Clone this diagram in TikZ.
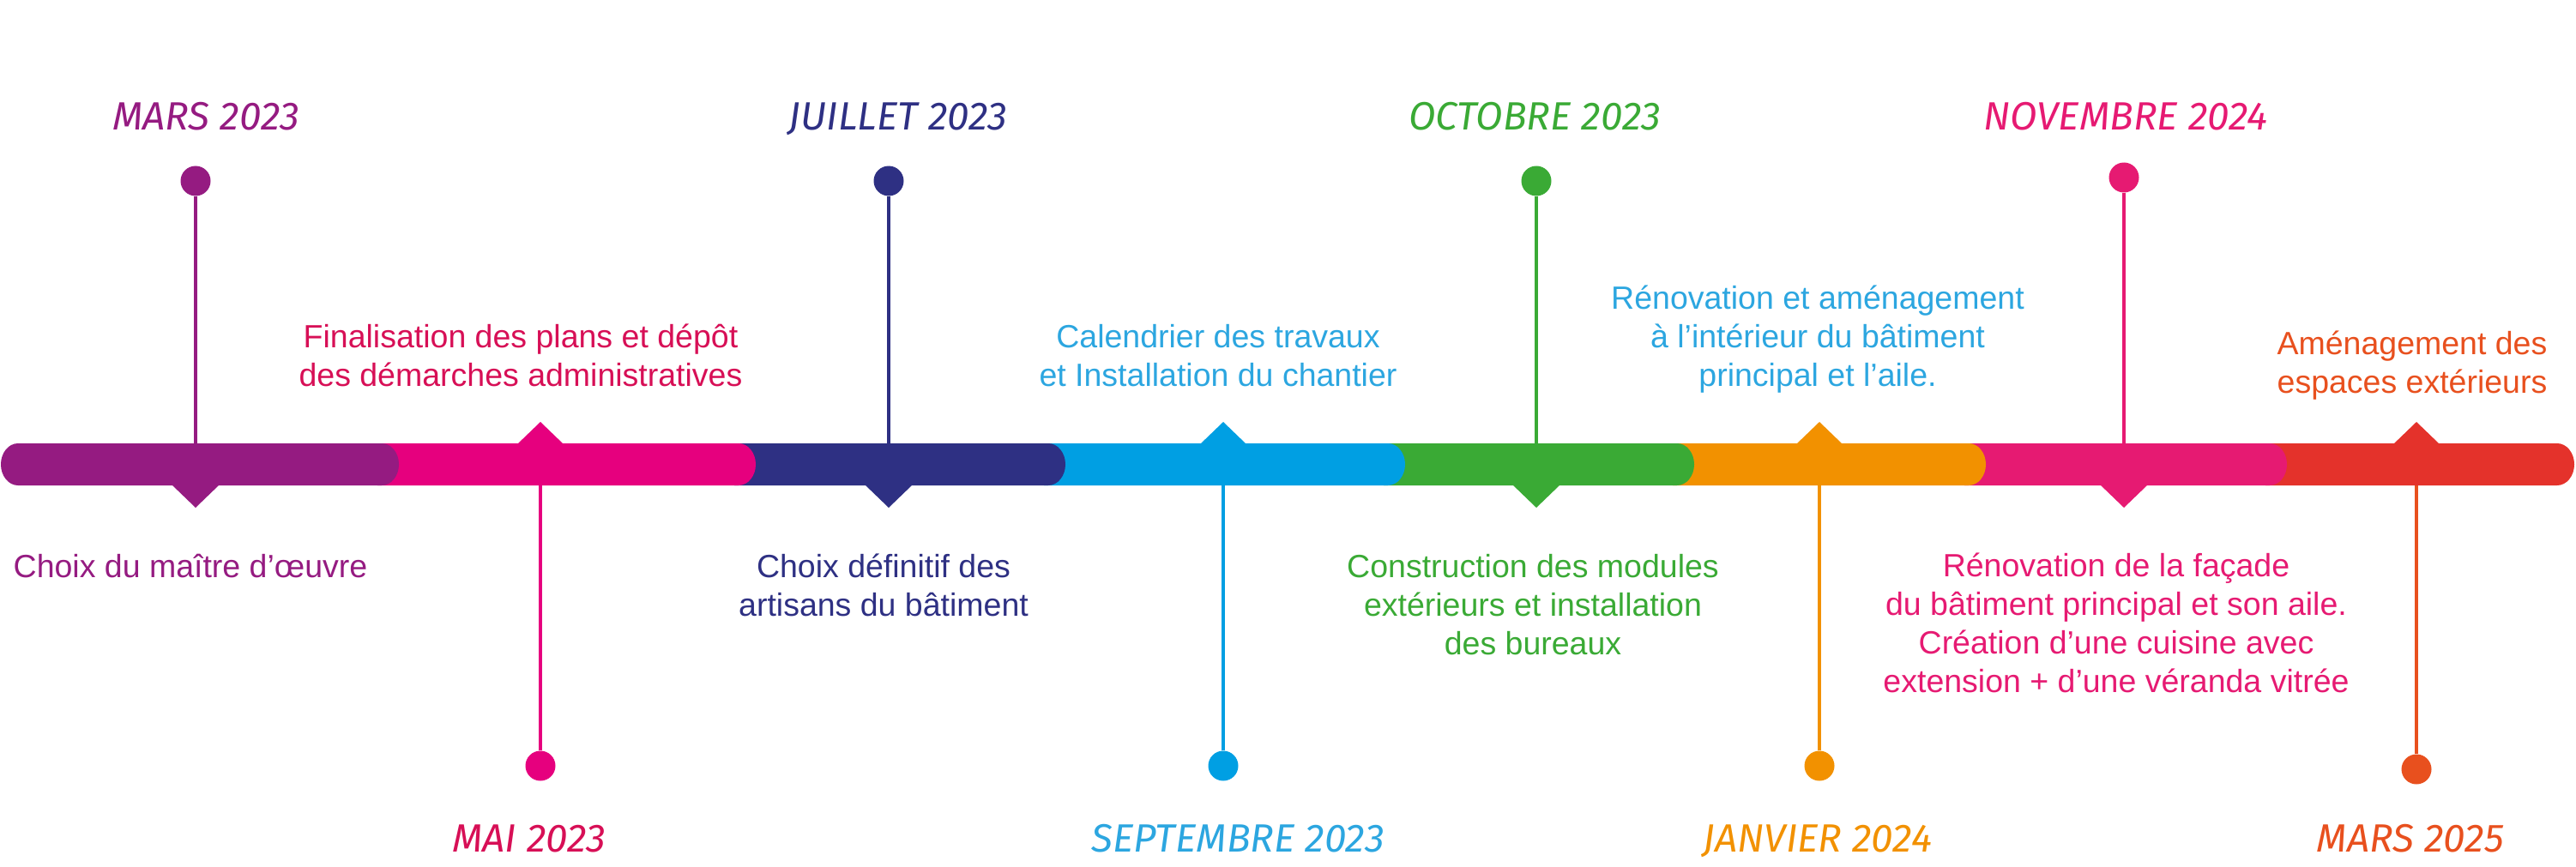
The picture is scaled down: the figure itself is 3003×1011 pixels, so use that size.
\documentclass[tikz,border=0pt]{standalone}
\usepackage{fontspec}
\setmainfont{Liberation Sans}
\newfontfamily\datefont{Fira Sans}

\begin{document}
\begin{tikzpicture}[x=1pt, y=-1pt,
    event/.style={font=\fontsize{37.5}{45}\selectfont, align=center, anchor=base, inner sep=0pt},
    datelabel/.style={font=\datefont\itshape\fontsize{46}{46}\selectfont, anchor=base, inner sep=0pt},
    dot/.style={circle, fill=#1, minimum size=35pt, inner sep=0pt},
    stem/.style={draw=#1, line width=4.3pt}]
    % Define colors
    \definecolor{violetcol}{HTML}{951B81} % Purple
    \definecolor{magentacol}{HTML}{E6007E} % Magenta
    \definecolor{crimsoncol}{HTML}{D70F56} % Crimson for text
    \definecolor{navycol}{HTML}{2E3083} % Navy
    \definecolor{skycol}{HTML}{009FE3} % Sky blue
    \definecolor{skytext}{HTML}{2CA6E0} % Sky blue for text
    \definecolor{greencol}{HTML}{3AAA35} % Green
    \definecolor{orangecol}{HTML}{F29100} % Orange
    \definecolor{pinkcol}{HTML}{E61A72} % Pink
    \definecolor{redcol}{HTML}{E4322B} % Red
    \definecolor{brickcol}{HTML}{E8501E} % Orange red

    % Canvas
    \useasboundingbox (0,0) rectangle (3003,1011);

    % Milestones (dots)
    \node[dot=violetcol] (d1) at (228,211) {};
    \node[dot=magentacol] (d2) at (630,893) {};
    \node[dot=navycol] (d3) at (1036,211) {};
    \node[dot=skycol] (d4) at (1426,893) {};
    \node[dot=greencol] (d5) at (1791,211) {};
    \node[dot=orangecol] (d6) at (2121,893) {};
    \node[dot=pinkcol] (d7) at (2476,207) {};
    \node[dot=brickcol] (d8) at (2817,897) {};

    % Points on the bar
    \coordinate (b1) at (228,541);
    \coordinate (b2) at (630,541);
    \coordinate (b3) at (1036,541);
    \coordinate (b4) at (1426,541);
    \coordinate (b5) at (1791,541);
    \coordinate (b6) at (2121,541);
    \coordinate (b7) at (2476,541);
    \coordinate (b8) at (2817,541);

    % Stems
    \draw[stem=violetcol] (d1) -- (b1);
    \draw[stem=magentacol] (d2) -- (b2);
    \draw[stem=navycol] (d3) -- (b3);
    \draw[stem=skycol] (d4) -- (b4);
    \draw[stem=greencol] (d5) -- (b5);
    \draw[stem=orangecol] (d6) -- (b6);
    \draw[stem=pinkcol] (d7) -- (b7);
    \draw[stem=brickcol] (d8) -- (b8);

    % Bar, right to left so each rounded end lies on the next one
    \fill[redcol] (2641,517) -- (2981,517) arc[start angle=-90, end angle=90, x radius=20, y radius=24.5] -- (2641,566) -- cycle;
    \fill[pinkcol] (2290,517) -- (2646,517) arc[start angle=-90, end angle=90, x radius=20, y radius=24.5] -- (2290,566) -- cycle;
    \fill[orangecol] (1950,517) -- (2295,517) arc[start angle=-90, end angle=90, x radius=20, y radius=24.5] -- (1950,566) -- cycle;
    \fill[greencol] (1613,517) -- (1955,517) arc[start angle=-90, end angle=90, x radius=20, y radius=24.5] -- (1613,566) -- cycle;
    \fill[skycol] (1217,517) -- (1618,517) arc[start angle=-90, end angle=90, x radius=20, y radius=24.5] -- (1217,566) -- cycle;
    \fill[navycol] (856,517) -- (1222,517) arc[start angle=-90, end angle=90, x radius=20, y radius=24.5] -- (856,566) -- cycle;
    \fill[magentacol] (440,517) -- (861,517) arc[start angle=-90, end angle=90, x radius=20, y radius=24.5] -- (440,566) -- cycle;
    \fill[violetcol] (21,517) -- (445,517) arc[start angle=-90, end angle=90, x radius=20, y radius=24.5] -- (21,566) arc[start angle=90, end angle=270, x radius=20, y radius=24.5] -- cycle;

    % Pointers
    \fill[violetcol] (200,565) -- (228,592) -- (256,565) -- cycle;
    \fill[magentacol] (603,518) -- (630,492) -- (657,518) -- cycle;
    \fill[navycol] (1008,565) -- (1036,592) -- (1064,565) -- cycle;
    \fill[skycol] (1399,518) -- (1426,492) -- (1453,518) -- cycle;
    \fill[greencol] (1763,565) -- (1791,592) -- (1819,565) -- cycle;
    \fill[orangecol] (2094,518) -- (2121,492) -- (2148,518) -- cycle;
    \fill[pinkcol] (2448,565) -- (2476,592) -- (2504,565) -- cycle;
    \fill[redcol] (2790,518) -- (2817,492) -- (2844,518) -- cycle;

    % Dates
    \node[datelabel, violetcol] (m1) at (240,152) {MARS 2023};
    \node[datelabel, crimsoncol] (m2) at (617,993) {MAI 2023};
    \node[datelabel, navycol] (m3) at (1047,152) {JUILLET 2023};
    \node[datelabel, skytext] (m4) at (1443,993) {SEPTEMBRE 2023};
    \node[datelabel, greencol] (m5) at (1789,152) {OCTOBRE 2023};
    \node[datelabel, orangecol] (m6) at (2119,993) {JANVIER 2024};
    \node[datelabel, pinkcol] (m7) at (2478,152) {NOVEMBRE 2024};
    \node[datelabel, brickcol] (m8) at (2810,993) {MARS 2025};

    % Steps (base = last line)
    \node[event, violetcol] (e1) at (222,673) {Choix du maître d’œuvre};
    \node[event, crimsoncol] (e2) at (607,450) {Finalisation des plans et dépôt\\des démarches administratives};
    \node[event, navycol] (e3) at (1030,718) {Choix définitif des\\artisans du bâtiment};
    \node[event, skytext] (e4) at (1420,450) {Calendrier des travaux\\et Installation du chantier};
    \node[event, greencol] (e5) at (1787,763) {Construction des modules\\extérieurs et installation\\des bureaux};
    \node[event, skytext] (e6) at (2119,450) {Rénovation et aménagement\\à l’intérieur du bâtiment\\principal et l’aile.};
    \node[event, pinkcol] (e7) at (2467,807) {Rénovation de la façade\\du bâtiment principal et son aile.\\Création d’une cuisine avec\\extension + d’une véranda vitrée};
    \node[event, brickcol] (e8) at (2812,458) {Aménagement des\\espaces extérieurs};
\end{tikzpicture}
\end{document}
